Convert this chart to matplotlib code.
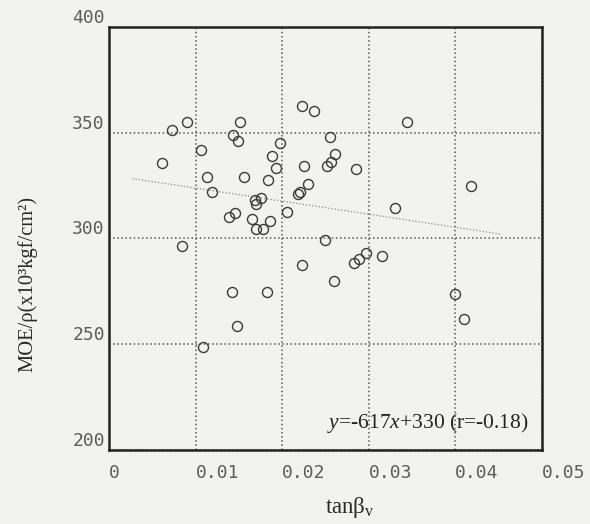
import matplotlib
matplotlib.use("Agg")
import matplotlib.pyplot as plt
import numpy as np

# tanβv and MOE/ρ for each specimen
tan_beta = [0.00725, 0.00898, 0.01064, 0.00609, 0.01136, 0.01185, 0.00847,
            0.02231, 0.02362, 0.01509, 0.01437, 0.01495, 0.01977, 0.01884,
            0.01925, 0.02254, 0.01555, 0.01838, 0.02301, 0.01757, 0.01688,
            0.01699, 0.02177, 0.02208, 0.02054, 0.01390, 0.01457, 0.01650,
            0.01858, 0.01699, 0.01784, 0.03442, 0.02555, 0.02609, 0.02566,
            0.02517, 0.02850, 0.03298, 0.02497, 0.04185, 0.01418, 0.01830,
            0.01476, 0.01090, 0.02231, 0.02593, 0.02829, 0.02890, 0.02965,
            0.03150, 0.03992, 0.04096]
moe_rho = [351.3, 354.9, 341.8, 335.5, 329.2, 322.1, 296.3,
           362.5, 360.3, 355.3, 348.7, 346.3, 345.1, 339.1,
           333.2, 334.3, 329.1, 327.8, 325.7, 319.2, 318.0,
           316.3, 321.0, 322.2, 312.4, 310.2, 312.1, 309.3,
           308.5, 304.7, 304.6, 354.9, 348.2, 339.8, 336.4,
           334.1, 333.0, 314.3, 299.3, 324.8, 274.7, 274.7,
           258.6, 248.6, 287.3, 279.8, 288.4, 290.1, 293.0,
           291.9, 273.6, 261.8]

# fitted line y = a*x + b
slope, intercept, r_value = -617, 330, -0.18
fit_range = [0.0027, 0.0454]

x_ticks = [0, 0.01, 0.02, 0.03, 0.04, 0.05]
x_ticklabels = ["0", "0.01", "0.02", "0.03", "0.04", "0.05"]
y_ticks = [200, 250, 300, 350, 400]

plt.rcParams["mathtext.fontset"] = "custom"
plt.rcParams["mathtext.rm"] = "Liberation Serif"
plt.rcParams["mathtext.it"] = "Liberation Serif:italic"

bg = "#f2f2f0"
fig = plt.figure(figsize=(5.9, 5.24), dpi=100, facecolor=bg)
ax = fig.add_axes([0.1847, 0.1412, 0.7339, 0.8073], facecolor=bg)

ax.plot(tan_beta, moe_rho, "o", ms=7.2, mfc="none", mec="#3a3a3a", mew=1.0,
        zorder=3)

fx = np.array(fit_range)
ax.plot(fx, slope * fx + intercept, color="#8a8a8a", lw=0.9,
        ls=(0, (1, 1.6)), zorder=2)

ax.set_xlim(0, 0.05)
ax.set_ylim(200, 400)
ax.set_xticks(x_ticks)
ax.set_yticks(y_ticks)
ax.grid(True, color="#555555", lw=1.1, ls=(0, (1, 1.7)))
ax.tick_params(length=0, labelsize=13, labelcolor="#5c5c5c", pad=3)
ax.set_xticklabels(x_ticklabels, ha="left", family="DejaVu Sans Mono")
ax.tick_params(axis="x", pad=10)
for lab in ax.get_yticklabels():
    lab.set_family("DejaVu Sans Mono")
    lab.set_verticalalignment("bottom")

for sp in ax.spines.values():
    sp.set_linewidth(1.8)
    sp.set_color("#222222")

ax.text(0.0252, 213, r"$y$=-617$x$+330 (r=-0.18)", fontsize=15.5,
        family="Liberation Serif", color="#222222", ha="left", va="center")

fig.text(28 / 590, 1 - 284 / 524, "MOE/ρ(x10³kgf/cm²)", rotation=90,
         fontsize=14.8, family="Liberation Serif", color="#2a2a2a",
         ha="center", va="center")
fig.text(350 / 590, 1 - 507 / 524, r"tanβ$_\mathrm{v}$", fontsize=16.5,
         family="Liberation Serif", color="#2a2a2a", ha="center", va="center")

fig.savefig("out.png", dpi=100, facecolor=bg)
